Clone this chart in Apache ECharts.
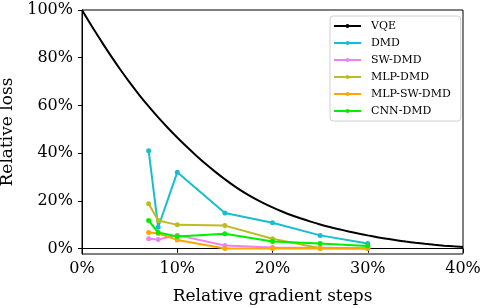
<!DOCTYPE html>
<html><head><meta charset="utf-8">
<script src="https://cdn.jsdelivr.net/npm/echarts@6/dist/echarts.min.js"></script>
<style>html,body{margin:0;padding:0;background:#fff}#c{width:482px;height:308px}</style>
</head><body><div id="c"></div>
<script>
const seriesNames = ['VQE','DMD','SW-DMD','MLP-DMD','MLP-SW-DMD','CNN-DMD'];
const vqeX = [0,1,2,3,4,5,6,7,8,9,10,11,12,13,14,15,16,17,18,19,20,21,22,23,24,25,26,27,28,29,30,31,32,33,34,35,36,37,38,39,40];
const vqeY = [100,93.4,87.1,81.0,75.2,69.7,64.5,59.6,55.0,50.7,46.6,42.7,39.0,35.5,32.2,29.1,26.2,23.6,21.3,19.2,17.3,15.6,14.05,12.65,11.35,10.15,9.1,8.15,7.25,6.4,5.6,4.85,4.15,3.55,3.0,2.5,2.05,1.65,1.3,1.0,0.72];
const stepX = [7,8,10,15,20,25,30];
const dmd = [41,9,32,15,10.9,5.6,2.2];
const swDmd = [4.2,3.9,5.7,1.4,0.5,0.4,0.3];
const mlpDmd = [18.8,11.8,10,9.7,4.2,0.2,0.1];
const mlpSwDmd = [6.8,6.4,3.7,0.1,0.1,0.1,0.1];
const cnnDmd = [11.8,6.8,5.1,6.3,3.0,2.2,1.1];
const xTicks = [0,10,20,30,40];
const yTicks = [0,20,40,60,80,100];

const colors = ['#000000','#17becf','#ee82ee','#bcbd22','#ffa500','#00ee00'];
const font = 'DejaVu Serif';
const zip = (xs, ys) => xs.map((x,i)=>[x,ys[i]]);
const marked = [dmd, swDmd, mlpDmd, mlpSwDmd, cnnDmd];

const series = [{
  name: seriesNames[0], type:'line', data: zip(vqeX, vqeY), smooth: 0.4,
  showSymbol:false, symbol:'none', lineStyle:{color:colors[0], width:2}, itemStyle:{color:colors[0]}, z:1
}].concat(marked.map((d,i)=>({
  name: seriesNames[i+1], type:'line', data: zip(stepX, d), symbol:'circle', symbolSize:5,
  lineStyle:{color:colors[i+1], width:2}, itemStyle:{color:colors[i+1]}, z: 2+i
})));

const chart = echarts.init(document.getElementById('c'), null, {renderer:'canvas'});
chart.setOption({
  animation:false,
  grid:{left:82, right:19, top:10, bottom:54, show:true, borderColor:'#000', borderWidth:1, outerBoundsMode:'none', containLabel:false},
  legend:{
    orient:'vertical', left:330, top:16, data: seriesNames,
    itemWidth:27, itemHeight:5, itemGap:5,
    padding:[4,10,4,3], borderColor:'#d0d0d0', borderWidth:1, borderRadius:3,
    textStyle:{fontFamily:font, fontSize:11, color:'#000', lineHeight:12, padding:[0,0,0,5]}
  },
  xAxis:{
    type:'value', min:0, max:40, interval:10,
    name:'Relative gradient steps', nameLocation:'middle', nameGap:34,
    nameTextStyle:{fontFamily:font, fontSize:17, color:'#000'},
    axisLine:{show:true, lineStyle:{color:'#000', width:1}},
    axisTick:{show:true, length:4, lineStyle:{color:'#000'}},
    splitLine:{show:false},
    axisLabel:{fontFamily:font, fontSize:16, color:'#000', margin:7, formatter: v => v+'%'}
  },
  yAxis:{
    type:'value', min:-2.2, max:100,
    name:'Relative loss', nameLocation:'middle', nameGap:56,
    nameTextStyle:{fontFamily:font, fontSize:17, color:'#000'},
    axisLine:{show:true, lineStyle:{color:'#000', width:1}},
    axisTick:{show:true, length:4, lineStyle:{color:'#000'}, customValues: yTicks},
    splitLine:{show:false},
    axisLabel:{fontFamily:font, fontSize:16, color:'#000', margin:9, customValues: yTicks, formatter: v => Math.round(v)+'%'}
  },
  series: series
});
</script></body></html>
